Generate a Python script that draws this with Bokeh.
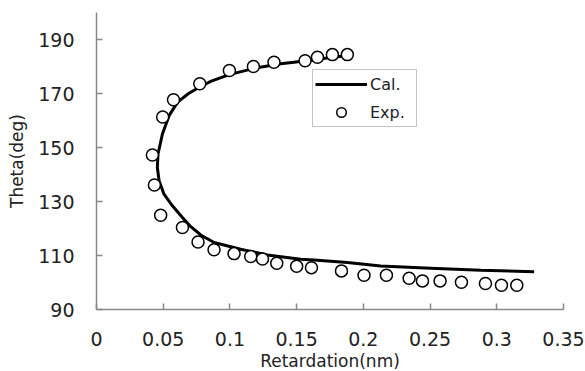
from bokeh.plotting import figure
from bokeh.models import Range1d, FixedTicker, Legend, LegendItem
from bokeh.embed import file_html
from bokeh.resources import INLINE

# Calculated curve (Cal.)
cal_x = [0.186, 0.175, 0.165, 0.155, 0.148, 0.138, 0.118, 0.0996, 0.086, 0.078,
         0.069, 0.0606, 0.0544, 0.0494, 0.0461, 0.0456, 0.0469, 0.0506, 0.0569,
         0.0644, 0.0700, 0.0781, 0.0881, 0.108, 0.128, 0.153, 0.163, 0.188,
         0.213, 0.2505, 0.288, 0.328]
cal_y = [183.9, 183.3, 182.6, 182.0, 181.6, 181.0, 179.3, 177.0, 174.6, 172.6,
         170.0, 166.7, 161.8, 155.0, 147.6, 142.6, 137.7, 132.7, 128.4,
         124.1, 121.0, 117.6, 114.8, 112.3, 110.2, 108.6, 108.3, 107.4,
         106.1, 105.3, 104.5, 104.0]

# Experimental points (Exp.)
exp_x = [0.188, 0.1768, 0.1656, 0.1563, 0.133, 0.1176, 0.0996, 0.0774, 0.0577,
         0.0496, 0.0419, 0.0434, 0.0481, 0.0644, 0.0761, 0.0881, 0.1031, 0.1156,
         0.1244, 0.1351, 0.150, 0.1611, 0.1836, 0.2005, 0.2173, 0.2343, 0.2443,
         0.2575, 0.2735, 0.2915, 0.3035, 0.315]
exp_y = [184.4, 184.4, 183.4, 182.1, 181.6, 180.0, 178.5, 173.6, 167.7,
         161.3, 147.2, 136.1, 124.9, 120.4, 115.0, 112.1, 110.7, 109.6,
         108.7, 107.1, 106.0, 105.5, 104.3, 102.7, 102.7, 101.6, 100.6,
         100.6, 100.1, 99.6, 99.0, 99.0]

x_ticks = [0, 0.05, 0.1, 0.15, 0.2, 0.25, 0.3, 0.35]
x_tick_labels = ["0", "0.05", "0.1", "0.15", "0.2", "0.25", "0.3", "0.35"]
y_ticks = [90, 110, 130, 150, 170, 190]

FONT = "DejaVu Sans"
TEXT = "#222222"
AXIS = "#888888"

p = figure(output_backend="svg", toolbar_location=None,
           frame_width=467, frame_height=297,
           min_border_left=96, min_border_right=22,
           min_border_top=12, min_border_bottom=62,
           x_range=Range1d(0, 0.35), y_range=Range1d(90, 200))
p.outline_line_color = None
p.xgrid.visible = False
p.ygrid.visible = False
p.background_fill_color = "white"
p.border_fill_color = "white"

cal = p.line(cal_x, cal_y, line_color="black", line_width=3)
exp = p.scatter(exp_x, exp_y, marker="circle", size=12, fill_color="white",
                line_color="black", line_width=1.5)

for ax in (p.xaxis[0], p.yaxis[0]):
    ax.axis_line_color = AXIS
    ax.axis_line_width = 1.5
    ax.major_tick_line_color = AXIS
    ax.major_tick_line_width = 1.5
    ax.major_tick_in = 6
    ax.major_tick_out = 0
    ax.minor_tick_line_color = None
    ax.major_label_text_font = FONT
    ax.major_label_text_font_size = "19px"
    ax.major_label_text_color = TEXT
    ax.axis_label_text_font = FONT
    ax.axis_label_text_font_size = "17px"
    ax.axis_label_text_font_style = "normal"
    ax.axis_label_text_color = TEXT

p.xaxis.ticker = FixedTicker(ticks=x_ticks)
p.xaxis.major_label_overrides = {t: l for t, l in zip(x_ticks, x_tick_labels)}
p.yaxis.ticker = FixedTicker(ticks=y_ticks)
p.xaxis.axis_label = "Retardation(nm)"
p.yaxis.axis_label = "Theta(deg)"
p.xaxis.major_label_standoff = 22
p.yaxis.major_label_standoff = 22
p.xaxis.axis_label_standoff = 2
p.yaxis.axis_label_standoff = 8

legend = Legend(items=[LegendItem(label="Cal.", renderers=[cal]),
                       LegendItem(label="Exp.", renderers=[exp])],
                location=(216, 182))
legend.border_line_color = AXIS
legend.border_line_width = 1.5
legend.background_fill_color = "white"
legend.background_fill_alpha = 1
legend.label_text_font = FONT
legend.label_text_font_size = "16px"
legend.label_text_color = TEXT
legend.glyph_width = 52
legend.glyph_height = 24
legend.label_height = 20
legend.label_width = 44
legend.label_standoff = 3
legend.padding = 2
legend.spacing = 4
legend.margin = 0
p.add_layout(legend, "center")

open("out.html", "w").write(file_html(p, INLINE))
